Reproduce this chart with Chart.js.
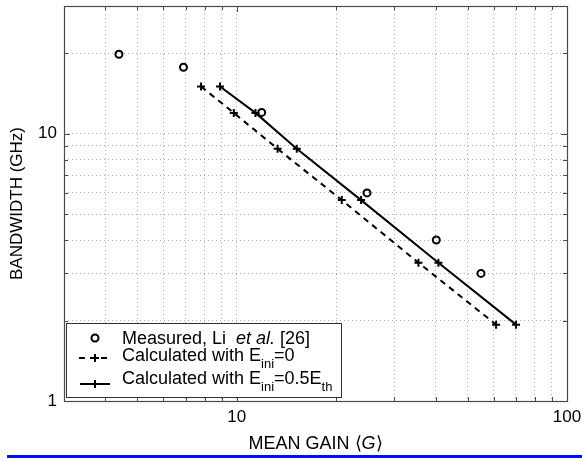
<!DOCTYPE html>
<html>
<head>
<meta charset="utf-8">
<script src="https://cdn.jsdelivr.net/npm/chart.js@4.4.1/dist/chart.umd.min.js"></script>
<style>
  html, body { margin: 0; padding: 0; background: #fff; }
</style>
</head>
<body>
<canvas id="gainChart" width="582" height="458"></canvas>
<script>
// Measured, Li et al. [26]
const measuredGain = [4.4, 6.9, 11.9, 24.8, 40.2, 54.9];
const measuredBw = [19.8, 17.7, 12.0, 6.0, 4.0, 3.0];

// Calculated with E_ini = 0 (dashed) and E_ini = 0.5 E_th (solid)
const calcZeroGain = [7.8, 9.8, 13.3, 20.8, 35.5, 61.0];
const calcHalfGain = [8.9, 11.4, 15.2, 23.8, 40.8, 70.1];
const calcBw = [15.0, 11.95, 8.77, 5.64, 3.29, 1.93];

const xTickValues = [3, 4, 5, 6, 7, 8, 9, 10, 20, 30, 40, 50, 60, 70, 80, 90, 100];
const yTickValues = [1, 2, 3, 4, 5, 6, 7, 8, 9, 10, 20, 30];
const xTickLabels = [10, 100];
const yTickLabels = [1, 10];

const FONT = "'Liberation Sans', Arial, Helvetica, sans-serif";

const pts = (xs, ys) => xs.map((x, i) => ({ x, y: ys[i] }));

// frame, inner tick marks, legend, titles, blue rule
const framePlugin = {
  id: "frame",
  afterDatasetsDraw(chart) {
    const { ctx, chartArea: a, scales } = chart;
    ctx.save();
    ctx.strokeStyle = "#4a4a4a";
    ctx.lineWidth = 1.2;
    ctx.strokeRect(a.left + 0.5, a.top + 0.5, a.right - a.left, a.bottom - a.top);

    ctx.lineWidth = 1;
    ctx.beginPath();
    xTickValues.forEach((v) => {
      const px = Math.round(scales.x.getPixelForValue(v)) + 0.5;
      const len = xTickLabels.includes(v) ? 6 : 4;
      ctx.moveTo(px, a.bottom); ctx.lineTo(px, a.bottom - len);
      ctx.moveTo(px, a.top); ctx.lineTo(px, a.top + len);
    });
    yTickValues.forEach((v) => {
      const py = Math.round(scales.y.getPixelForValue(v)) + 0.5;
      const len = yTickLabels.includes(v) ? 6 : 4;
      ctx.moveTo(a.left, py); ctx.lineTo(a.left + len, py);
      ctx.moveTo(a.right, py); ctx.lineTo(a.right - len, py);
    });
    ctx.stroke();
    ctx.restore();
  },
  afterDraw(chart) {
    const { ctx, chartArea: a } = chart;
    ctx.save();
    ctx.fillStyle = "#000";

    // y title
    ctx.save();
    ctx.translate(17, (a.top + a.bottom) / 2);
    ctx.rotate(-Math.PI / 2);
    ctx.font = `17px ${FONT}`;
    ctx.textAlign = "center";
    ctx.textBaseline = "middle";
    ctx.fillText("BANDWIDTH (GHz)", 0, 0);
    ctx.restore();

    // x title with italic G
    const parts = [
      ["MEAN GAIN \u27E8", `18px ${FONT}`],
      ["G", `italic 18px ${FONT}`],
      ["\u27E9", `18px ${FONT}`],
    ];
    let total = 0;
    parts.forEach(([t, f]) => { ctx.font = f; total += ctx.measureText(t).width; });
    let tx = (a.left + a.right) / 2 - total / 2;
    ctx.textBaseline = "middle";
    ctx.textAlign = "left";
    parts.forEach(([t, f]) => {
      ctx.font = f;
      ctx.fillText(t, tx, 444);
      tx += ctx.measureText(t).width;
    });

    // legend box
    const bx = a.left + 2, by = a.bottom - 78, bw = 275, bh = 74;
    ctx.fillStyle = "#fff";
    ctx.fillRect(bx, by, bw, bh);
    ctx.strokeStyle = "#333";
    ctx.lineWidth = 1;
    ctx.strokeRect(bx + 0.5, by + 0.5, bw, bh);

    const sx = bx + 29, textX = bx + 56;
    ctx.strokeStyle = "#000";
    ctx.lineWidth = 2;
    // circle
    ctx.beginPath();
    ctx.arc(sx, by + 15, 3.5, 0, Math.PI * 2);
    ctx.stroke();
    // dashed sample
    ctx.setLineDash([6, 5]);
    ctx.beginPath();
    ctx.moveTo(sx - 16, by + 35); ctx.lineTo(sx + 16, by + 35);
    ctx.stroke();
    ctx.setLineDash([]);
    // solid sample
    ctx.beginPath();
    ctx.moveTo(sx - 15, by + 61); ctx.lineTo(sx + 15, by + 61);
    ctx.stroke();
    // crosses
    ctx.beginPath();
    [by + 35, by + 61].forEach((cy) => {
      ctx.moveTo(sx - 4, cy); ctx.lineTo(sx + 4, cy);
      ctx.moveTo(sx, cy - 4); ctx.lineTo(sx, cy + 4);
    });
    ctx.stroke();

    ctx.fillStyle = "#000";
    ctx.textBaseline = "alphabetic";
    const run = (segs, x, y) => {
      segs.forEach(([t, f, dy]) => {
        ctx.font = f;
        ctx.fillText(t, x, y + (dy || 0));
        x += ctx.measureText(t).width;
      });
    };
    const main = `18px ${FONT}`, ital = `italic 18px ${FONT}`, sub = `13px ${FONT}`;
    run([["Measured, Li  ", main], ["et al.", ital], [" [26]", main]], textX, by + 21);
    run([["Calculated with E", main], ["ini", sub, 7], ["=0", main]], textX, by + 38);
    run([["Calculated with E", main], ["ini", sub, 7], ["=0.5E", main], ["th", sub, 7]], textX, by + 61);

    // blue rule at the bottom
    ctx.fillStyle = "#0a0aff";
    ctx.fillRect(7, 455, 575, 3);
    ctx.restore();
  },
};

new Chart(document.getElementById("gainChart"), {
  type: "scatter",
  data: {
    datasets: [
      {
        label: "Measured, Li et al. [26]",
        data: pts(measuredGain, measuredBw),
        showLine: false,
        pointStyle: "circle",
        pointRadius: 3.5,
        pointBorderWidth: 2,
        borderColor: "#000",
        backgroundColor: "rgba(0,0,0,0)",
      },
      {
        label: "Calculated with Eini=0",
        data: pts(calcZeroGain, calcBw),
        showLine: true,
        borderColor: "#000",
        backgroundColor: "#000",
        borderWidth: 2,
        borderDash: [6, 5],
        pointStyle: "cross",
        pointRadius: 4,
        pointBorderWidth: 2,
      },
      {
        label: "Calculated with Eini=0.5Eth",
        data: pts(calcHalfGain, calcBw),
        showLine: true,
        borderColor: "#000",
        backgroundColor: "#000",
        borderWidth: 2,
        pointStyle: "cross",
        pointRadius: 4,
        pointBorderWidth: 2,
      },
    ],
  },
  options: {
    responsive: false,
    animation: false,
    devicePixelRatio: 1,
    layout: { padding: { left: 0, right: 15, top: 5, bottom: 0 } },
    plugins: { legend: { display: false }, tooltip: { enabled: false } },
    scales: {
      x: {
        type: "logarithmic",
        min: 3,
        max: 100,
        afterBuildTicks: (s) => { s.ticks = xTickValues.map((v) => ({ value: v })); },
        afterFit: (s) => { s.height = 57; s.paddingLeft = 0; s.paddingRight = 0; },
        ticks: {
          autoSkip: false,
          maxRotation: 0,
          padding: 6,
          color: "#000",
          font: { family: FONT, size: 17 },
          callback: (v) => (xTickLabels.includes(v) ? String(v) : ""),
        },
        grid: { color: "#a8a8a8", lineWidth: 1, drawTicks: false },
        border: { display: false, dash: [1, 3] },
      },
      y: {
        type: "logarithmic",
        min: 1,
        max: 30,
        afterBuildTicks: (s) => { s.ticks = yTickValues.map((v) => ({ value: v })); },
        afterFit: (s) => { s.width = 64; s.paddingTop = 0; s.paddingBottom = 0; },
        ticks: {
          autoSkip: false,
          padding: 7,
          color: "#000",
          font: { family: FONT, size: 17 },
          callback: (v) => (yTickLabels.includes(v) ? String(v) : ""),
        },
        grid: { color: "#a8a8a8", lineWidth: 1, drawTicks: false },
        border: { display: false, dash: [1, 3] },
      },
    },
  },
  plugins: [framePlugin],
});
</script>
</body>
</html>
